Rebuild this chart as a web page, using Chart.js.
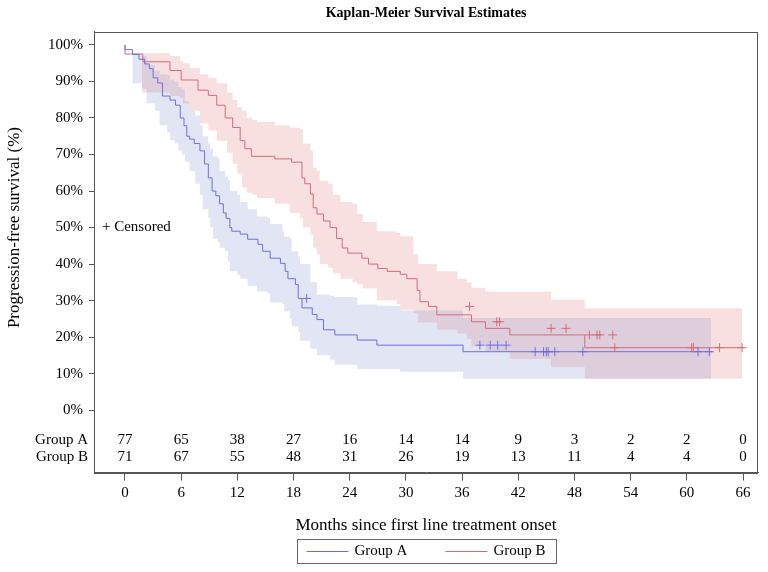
<!DOCTYPE html>
<html>
<head>
<meta charset="utf-8">
<title>Kaplan-Meier Survival Estimates</title>
<script src="https://cdn.jsdelivr.net/npm/chart.js@4.4.1/dist/chart.umd.min.js"></script>
<style>
    html, body { margin: 0; padding: 0; background: #fff; }
</style>
</head>
<body>
<canvas id="km" width="768" height="572"></canvas>
<script>
// tick labels
const monthTicks = [0, 6, 12, 18, 24, 30, 36, 42, 48, 54, 60, 66];
const pctTicks = [0, 10, 20, 30, 40, 50, 60, 70, 80, 90, 100];
const groupNames = ["Group A", "Group B"];

// number at risk, one value per month tick
const atRiskA = [77, 65, 38, 27, 16, 14, 14, 9, 3, 2, 2, 0];
const atRiskB = [71, 67, 55, 48, 31, 26, 19, 13, 11, 4, 4, 0];

// KM step curves (month, survival %)
const timeA = [0, 0.8, 1.5, 2.1, 2.6, 3.0, 3.5, 4.0, 4.8, 5.4, 5.9, 6.3, 6.6, 6.9, 7.4, 8.0, 8.5, 8.9, 9.3, 9.7,
    10.1, 10.5, 10.8, 11.2, 11.4, 12.3, 13.1, 14.2, 14.7, 15.5, 16.6, 17.1, 17.4, 18.2, 18.5, 18.9, 20.0, 20.5, 21.2, 22.4,
    24.8, 26.9, 36.1, 42.6, 62.7];
const survA = [100, 98.7, 97.4, 96.1, 94.8, 93.5, 91.0, 89.6, 86.0, 84.9, 83.5, 80.0, 77.9, 75.0, 74.2, 73.0, 71.0, 67.4, 63.6, 60.0,
    58.7, 56.5, 54.0, 52.5, 50.0, 49.0, 48.2, 46.8, 45.4, 43.5, 41.6, 40.2, 38.0, 36.0, 34.4, 30.6, 28.0, 26.2, 24.8, 22.0,
    20.6, 19.2, 17.8, 16.0, 16.0];
const timeB = [0, 1.9, 4.8, 6.0, 7.8, 8.9, 9.8, 10.7, 11.5, 12.3, 12.8, 13.5, 16.0, 17.8, 18.9, 19.2, 19.8, 20.1, 20.5, 21.2,
    21.9, 22.6, 23.2, 23.8, 25.3, 26.0, 27.0, 28.0, 29.4, 30.1, 31.2, 31.5, 32.4, 33.3, 37.0, 38.5, 41.1, 49.1, 52.3, 66.1];
const survB = [100, 97.5, 95.4, 93.0, 90.4, 87.6, 86.2, 83.5, 80.0, 77.4, 73.8, 71.6, 69.5, 68.8, 67.9, 63.6, 62.0, 59.2, 55.4, 53.7,
    51.8, 50.0, 47.0, 44.4, 43.0, 41.6, 40.0, 38.8, 38.0, 37.2, 36.0, 32.8, 29.7, 28.4, 26.1, 24.2, 22.4, 20.6, 17.1, 17.1];

// censoring times
const censorA = [19.4, 37.9, 39.0, 39.8, 40.7, 43.8, 44.7, 45.0, 45.2, 45.9, 48.9, 61.2, 62.4];
const censorB = [36.8, 39.7, 40.0, 45.5, 47.1, 49.6, 50.4, 50.7, 52.1, 52.3, 60.5, 60.7, 63.5, 65.9];

// confidence bands
const bandTimeA = [0.8, 1.8, 2.3, 3.2, 3.7, 4.5, 4.8, 5.3, 5.7, 6.1, 6.4, 6.9, 7.5, 8.0, 8.3, 8.9, 9.1, 9.4, 9.9, 10.1,
    10.7, 11.0, 11.2, 12.0, 12.3, 13.1, 14.1, 15.2, 15.5, 16.8, 17.0, 17.6, 17.8, 18.5, 18.7, 19.8, 20.5, 21.9, 22.4, 24.8,
    26.9, 29.4, 36.1, 42.6, 62.6];
const lowerA = [89.5, 89.5, 88, 84, 82, 78, 76, 74, 73, 71, 70, 68, 65.5, 62, 59, 55, 52.6, 50, 47, 46,
    44.5, 43.5, 40.8, 38, 37, 36, 34, 32.5, 32, 29.5, 29, 27, 25, 23, 21.5, 19, 16.8, 15, 13.8, 12.4,
    11.3, 11.3, 10.5, 8.6, 8.6];
const upperA = [100, 97.8, 97, 94.5, 93, 92, 91.7, 90.5, 90, 88.5, 88, 84.6, 82, 80.7, 78, 75, 73, 71.6, 69.5, 69,
    65.5, 64, 63, 60, 59, 57, 55, 53, 52.6, 51, 49, 47.5, 47, 43.5, 42, 40, 35, 31.7, 31.3, 31,
    28.9, 28.6, 27.3, 25.2, 25.2];
const bandTimeB = [1.8, 4.8, 5.9, 6.2, 6.9, 8.0, 8.9, 9.8, 10.9, 11.5, 12.0, 12.5, 13.0, 13.6, 14.1, 16.0, 17.6, 18.7, 19.0, 19.8,
    20.1, 20.5, 20.8, 21.7, 22.2, 23.0, 24.3, 24.8, 25.4, 26.9, 29.0, 29.4, 30.8, 31.3, 33.3, 35.5, 36.5, 37.0, 38.5, 41.1,
    45.5, 49.1, 52.3, 65.9];
const lowerB = [89.5, 87, 86, 85.5, 84, 82, 78.5, 76.6, 73.8, 70.5, 67.5, 64.7, 61, 59.5, 59, 58, 56.5, 54, 52.6, 50,
    48, 44.5, 42.7, 40, 39, 37.5, 36, 35, 34.5, 33.3, 30, 29, 27.5, 26.5, 24, 22, 21, 19.5, 17.5, 16,
    14, 11.8, 8.6, 8.6];
const upperB = [100, 97.8, 97, 95.6, 95, 93.7, 92, 91, 89.5, 87, 85, 83, 82, 80, 79.5, 79, 78, 77.4, 77, 73,
    71, 66.4, 65.6, 62.8, 62, 59, 57, 56.5, 53.7, 51.5, 49, 48.5, 47.6, 42.7, 40, 38, 36, 35, 33.5, 32.5,
    32.5, 30.3, 27.9, 27.9];

const colorA = "#6e6ee0";
const colorB = "#d66a78";
const serif = "'Liberation Serif', 'Times New Roman', serif";

function toPoints(xs, ys) {
    return xs.map((x, i) => ({ x: x, y: ys[i] }));
}

// survival value of a step curve at time t
function survAt(times, surv, t) {
    let v = surv[0];
    for (let i = 0; i < times.length; i++) {
        if (times[i] <= t) v = surv[i];
    }
    return v;
}

function censorPoints(cens, times, surv) {
    return cens.map((t) => ({ x: t, y: survAt(times, surv, t) }));
}

function bandDataset(xs, ys, color, fill) {
    return {
        data: toPoints(xs, ys),
        stepped: "after",
        borderColor: "rgba(0,0,0,0)",
        borderWidth: 0,
        pointRadius: 0,
        backgroundColor: color,
        fill: fill,
        order: 3,
    };
}

const kmPlugin = {
    id: "kmExtras",
    afterDraw(chart) {
        const ctx = chart.ctx;
        const area = chart.chartArea;
        const xs = chart.scales.x;
        const ys = chart.scales.y;
        ctx.save();

        // frame
        ctx.strokeStyle = "#555";
        ctx.lineWidth = 1;
        ctx.strokeRect(Math.round(area.left) + 0.5, Math.round(area.top) + 0.5,
            Math.round(area.right - area.left) - 1, Math.round(area.bottom - area.top));

        ctx.fillStyle = "#000";
        ctx.font = "15px " + serif;
        ctx.textBaseline = "middle";

        // number at risk table
        const rows = [atRiskA, atRiskB];
        rows.forEach((row, r) => {
            const y = area.bottom - 33 + r * 17;
            ctx.textAlign = "right";
            ctx.fillText(groupNames[r], area.left - 6, y);
            ctx.textAlign = "center";
            row.forEach((n, i) => {
                ctx.fillText(String(n), xs.getPixelForValue(monthTicks[i]), y);
            });
        });

        // censored note
        ctx.textAlign = "left";
        ctx.fillText("+ Censored", area.left + 8, ys.getPixelForValue(50));

        // y axis title
        ctx.save();
        ctx.translate(15, ys.getPixelForValue(50));
        ctx.rotate(-Math.PI / 2);
        ctx.textAlign = "center";
        ctx.font = "17px " + serif;
        ctx.fillText("Progression-free survival (%)", 0, 0);
        ctx.restore();

        // legend in a box
        ctx.font = "15px " + serif;
        const lineLen = 42, gap = 6, between = 38, pad = 10;
        const items = [[groupNames[0], colorA], [groupNames[1], colorB]];
        const widths = items.map((it) => lineLen + gap + ctx.measureText(it[0]).width);
        const total = widths[0] + between + widths[1];
        let x = (area.left + area.right) / 2 - total / 2;
        const ly = chart.height - 21;
        ctx.strokeStyle = "#666";
        ctx.strokeRect(Math.round(x - pad) + 0.5, Math.round(ly - 12) + 0.5, Math.round(total + pad * 2), 24);
        items.forEach((it, i) => {
            ctx.strokeStyle = it[1];
            ctx.lineWidth = 1;
            ctx.beginPath();
            ctx.moveTo(x, Math.round(ly) + 0.5);
            ctx.lineTo(x + lineLen, Math.round(ly) + 0.5);
            ctx.stroke();
            ctx.fillStyle = "#000";
            ctx.textAlign = "left";
            ctx.fillText(it[0], x + lineLen + gap, ly);
            x += widths[i] + between;
        });

        ctx.restore();
    },
};

const ctxKm = document.getElementById("km").getContext("2d");

const kmChart = new Chart(ctxKm, {
    type: "line",
    data: {
        datasets: [
            bandDataset(bandTimeA, upperA, "rgba(110,130,200,0.2)", false),
            bandDataset(bandTimeA, lowerA, "rgba(110,130,200,0.2)", "-1"),
            bandDataset(bandTimeB, upperB, "rgba(225,100,100,0.2)", false),
            bandDataset(bandTimeB, lowerB, "rgba(225,100,100,0.2)", "-1"),
            {
                label: groupNames[0],
                data: toPoints(timeA, survA),
                stepped: "after",
                borderColor: colorA,
                borderWidth: 1,
                pointRadius: 0,
                fill: false,
                order: 1,
            },
            {
                label: groupNames[1],
                data: toPoints(timeB, survB),
                stepped: "after",
                borderColor: colorB,
                borderWidth: 1,
                pointRadius: 0,
                fill: false,
                order: 1,
            },
            {
                data: censorPoints(censorA, timeA, survA),
                showLine: false,
                pointStyle: "cross",
                pointRadius: 4.5,
                borderWidth: 1,
                borderColor: colorA,
                order: 0,
            },
            {
                data: censorPoints(censorB, timeB, survB),
                showLine: false,
                pointStyle: "cross",
                pointRadius: 4.5,
                borderWidth: 1,
                borderColor: colorB,
                order: 0,
            },
        ],
    },
    options: {
        responsive: false,
        animation: false,
        events: [],
        layout: { padding: { left: 0, right: 10, top: 0, bottom: 36 } },
        plugins: {
            legend: { display: false },
            tooltip: { enabled: false },
            title: {
                display: true,
                text: "Kaplan-Meier Survival Estimates",
                fullSize: false,
                color: "#000",
                font: { family: serif, size: 14, weight: "bold" },
                padding: { top: 5, bottom: 10 },
            },
        },
        scales: {
            x: {
                type: "linear",
                min: -3.31,
                max: 67.6,
                afterBuildTicks: (scale) => {
                    scale.ticks = monthTicks.map((v) => ({ value: v }));
                },
                grid: { drawOnChartArea: false, drawTicks: true, tickLength: 8, color: "#555" },
                border: { display: true, color: "#555" },
                ticks: {
                    color: "#000",
                    padding: 3,
                    maxRotation: 0,
                    font: { family: serif, size: 15 },
                },
                title: {
                    display: true,
                    text: "Months since first line treatment onset",
                    color: "#000",
                    font: { family: serif, size: 17 },
                    padding: { top: 11, bottom: 0 },
                },
            },
            y: {
                min: -17.1,
                max: 103.6,
                afterBuildTicks: (scale) => {
                    scale.ticks = pctTicks.map((v) => ({ value: v }));
                },
                afterFit: (scale) => {
                    scale.width = 94;
                },
                grid: { drawOnChartArea: false, drawTicks: true, tickLength: 5, color: "#555" },
                border: { display: true, color: "#555" },
                ticks: {
                    color: "#000",
                    padding: 6,
                    font: { family: serif, size: 15 },
                    callback: (v) => v + "%",
                },
            },
        },
    },
    plugins: [kmPlugin],
});
</script>
</body>
</html>
